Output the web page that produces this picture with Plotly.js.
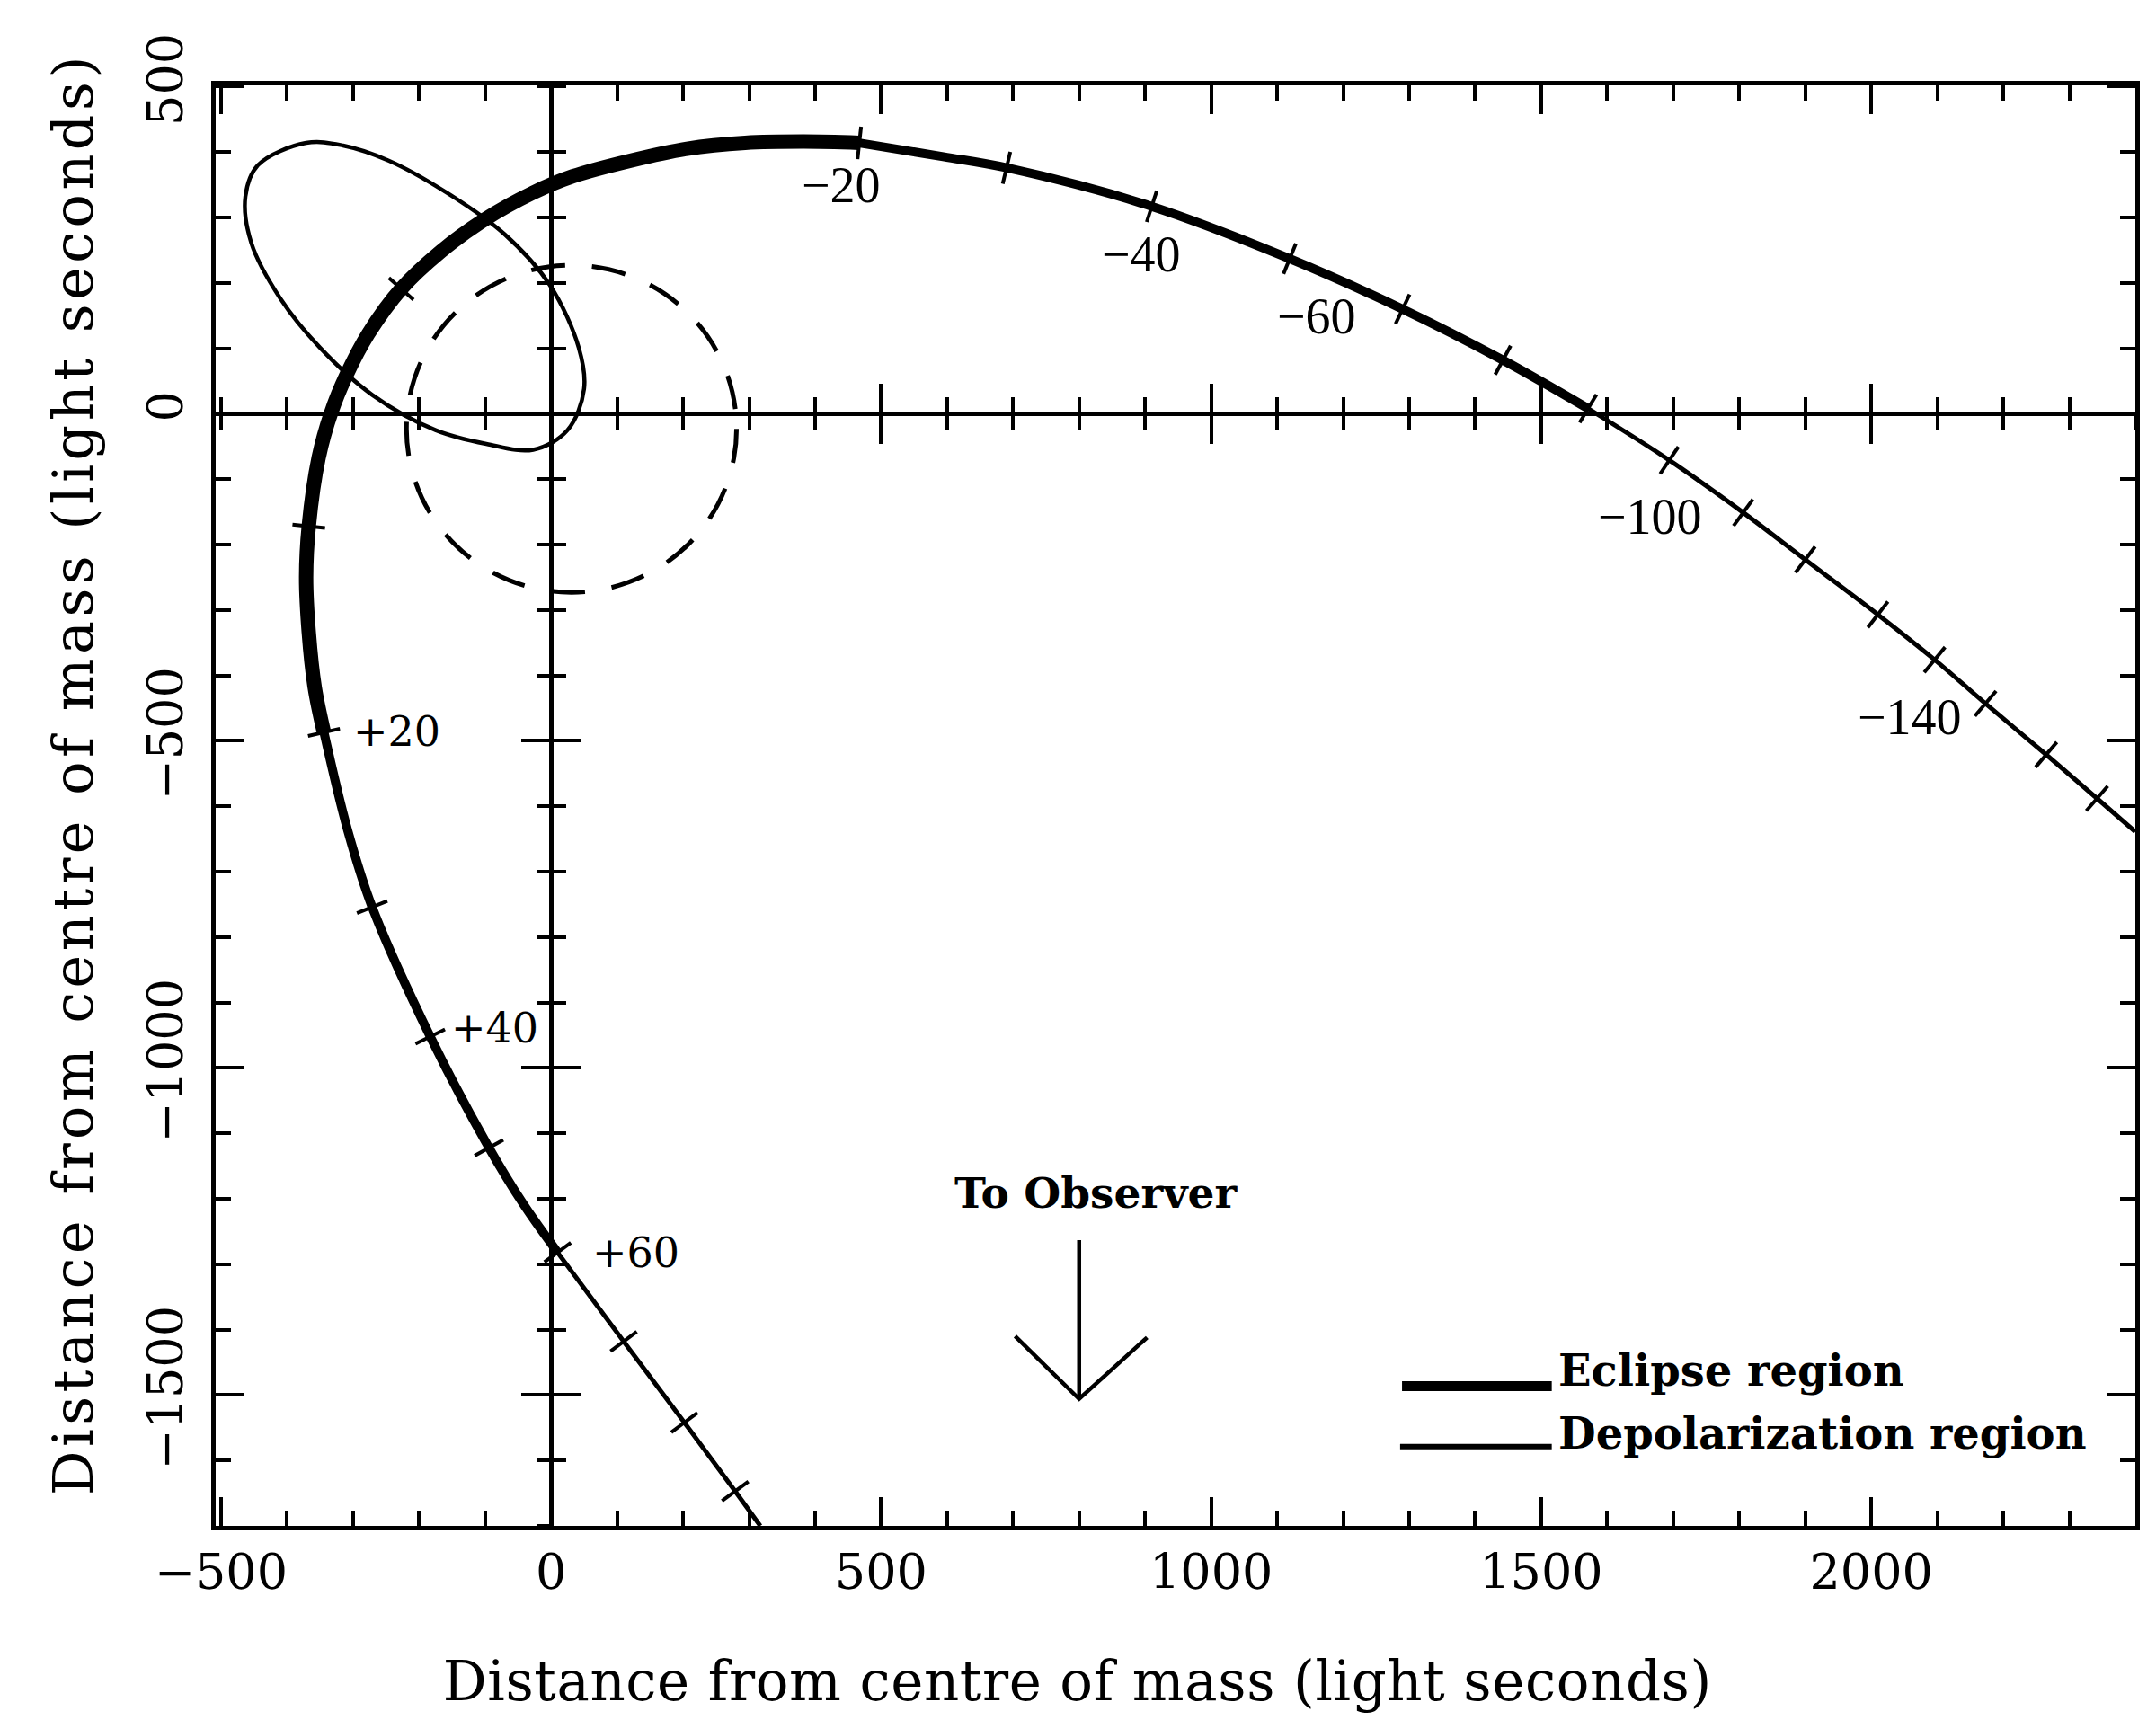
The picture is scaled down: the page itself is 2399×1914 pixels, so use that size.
<!DOCTYPE html>
<html><head><meta charset="utf-8">
<script src="https://cdn.plot.ly/plotly-3.0.1.min.js"></script>
<style>
html,body{margin:0;padding:0;background:#fff;}
#chart{width:2399px;height:1914px;}
g.annotation[data-index="10"] text{letter-spacing:4.5px;}
g.annotation[data-index="9"] text{letter-spacing:0.6px;}
</style>
</head><body><div id="chart"></div>
<script>
// ---- axes ----
const xRange = [-508, 2400];
const yRange = [-1700, 502];
const xTickVals = [-500, 0, 500, 1000, 1500, 2000];
const xTickText = ['\u2212500', '0', '500', '1000', '1500', '2000'];
const yTickVals = [500, 0, -500, -1000, -1500];
const yTickText = ['500', '0', '\u2212500', '\u22121000', '\u22121500'];
const axisTitle = 'Distance from centre of mass (light seconds)';

// ---- orbit (light seconds) ----
const orbitInX = [317, 279, 202, 110, 10];
const orbitInY = [-1700, -1647, -1542, -1418, -1282];
const depolInX = [10, -42, -94, -183, -271, -308, -344];
const depolInY = [-1282, -1208, -1122, -952, -754, -637, -487];
const eclipseX = [-344, -358, -367, -371, -367, -352, -333, -310, -277, -227, -167, -102, -27, 33, 121, 206, 294, 383, 467];
const eclipseY = [-487, -418, -334, -250, -172, -67, 2, 59, 122, 191, 248, 296, 338, 363, 387, 405, 414, 416, 414];
const depolOutX = [467, 594, 690, 910, 1119, 1290, 1442, 1571];
const depolOutY = [414, 393, 376, 317, 237, 160, 82, 8];
const orbitOutX = [1571, 1694, 1806, 1900, 2010, 2096, 2173, 2265, 2342, 2400];
const orbitOutY = [8, -71, -151, -223, -307, -376, -443, -521, -588, -639];

// 10-day marks on the orbit
const dayTickX = [279, 202, 110, 10, -94, -183, -271, -344, -367, -227, 467, 690, 910, 1119, 1290, 1442, 1571, 1694, 1806, 1900, 2010, 2096, 2173, 2265, 2342];
const dayTickY = [-1647, -1542, -1418, -1282, -1122, -952, -754, -487, -172, 191, 414, 376, 317, 237, 160, 82, 8, -71, -151, -223, -307, -376, -443, -521, -588];

// day labels
const minusLabels = ['\u221220', '\u221240', '\u221260', '\u2212100', '\u2212140'];
const minusLabelX = [440, 894, 1160, 1665, 2058];
const minusLabelY = [349, 244, 149, -158, -464];
const plusLabels = ['+20', '+40', '+60'];
const plusLabelX = [-233, -85, 129];
const plusLabelY = [-485, -939, -1282];

// tilted ellipse (disc) outline
const discX = [-371, -444, -463, -454, -410, -350, -271, -175, -98, -27, 25, 50, 42, -2, -71, -158, -246, -315, -371];
const discY = [414, 380, 332, 261, 176, 101, 29, -25, -46, -55, -25, 38, 101, 197, 275, 338, 387, 410, 414];

// dashed circle
const circleCentre = [31, -23];
const circleRadius = 250;

// observer arrow
const observerLabel = 'To Observer';
const observerLabelPos = [825, -1191];
const arrowShaftX = [800, 800];
const arrowShaftY = [-1263, -1506];
const arrowHeadX = [703, 800, 903];
const arrowHeadY = [-1410, -1506, -1412];

// legend
const legendNames = ['Eclipse region', 'Depolarization region'];

// ---- build ----
const W_THICK = 16, W_MED = 10, W_THIN = 5;
const serif = 'DejaVu Serif, Liberation Serif, serif';

function seg(x, y, w, name) {
  return {type: 'scatter', mode: 'lines', x: x, y: y, name: name,
    line: {color: '#000', width: w, shape: 'spline', smoothing: 1},
    hoverinfo: 'skip', showlegend: false};
}

// tick angles from orbit tangent (screen space)
const allX = [].concat(orbitInX, depolInX, eclipseX, depolOutX, orbitOutX);
const allY = [].concat(orbitInY, depolInY, eclipseY, depolOutY, orbitOutY);
const plotW = 2399 - 240 - 23, plotH = 1914 - 95 - 216;
const sx = plotW / (xRange[1] - xRange[0]), sy = plotH / (yRange[1] - yRange[0]);
const tickAngles = dayTickX.map((tx, k) => {
  const ty = dayTickY[k];
  let best = 0, bd = Infinity;
  for (let i = 0; i < allX.length; i++) {
    const d = (allX[i] - tx) ** 2 + (allY[i] - ty) ** 2;
    if (d < bd) { bd = d; best = i; }
  }
  let a = Math.max(0, best - 1), b = Math.min(allX.length - 1, best + 1);
  if (allX[a] === allX[best] && allY[a] === allY[best] && a > 0) a--;
  if (allX[b] === allX[best] && allY[b] === allY[best] && b < allX.length - 1) b++;
  const dx = (allX[b] - allX[a]) * sx, dy = -(allY[b] - allY[a]) * sy;
  return Math.atan2(dy, dx) * 180 / Math.PI;
});

const traces = [
  seg(orbitInX, orbitInY, W_THIN, 'orbit'),
  seg(depolInX, depolInY, W_MED, legendNames[1]),
  seg(eclipseX, eclipseY, W_THICK, legendNames[0]),
  seg(depolOutX, depolOutY, W_MED, legendNames[1]),
  seg(orbitOutX, orbitOutY, W_THIN, 'orbit'),
  {type: 'scatter', mode: 'lines', x: discX, y: discY, hoverinfo: 'skip', showlegend: false,
    line: {color: '#000', width: 4.5, shape: 'spline', smoothing: 1}},
  {type: 'scatter', mode: 'markers', x: dayTickX, y: dayTickY, hoverinfo: 'skip', showlegend: false,
    marker: {symbol: 'line-ns', size: 26, angle: tickAngles, color: '#000', line: {color: '#000', width: 4}}},
  {type: 'scatter', mode: 'lines', x: arrowShaftX, y: arrowShaftY, hoverinfo: 'skip', showlegend: false,
    line: {color: '#000', width: 4.5}},
  {type: 'scatter', mode: 'lines', x: arrowHeadX, y: arrowHeadY, hoverinfo: 'skip', showlegend: false,
    line: {color: '#000', width: 4.5}},
  // dummies so the cross-tick axes on the zero lines are drawn
  {type: 'scatter', x: [null], y: [null], xaxis: 'x2', yaxis: 'y', hoverinfo: 'skip', showlegend: false},
  {type: 'scatter', x: [null], y: [null], xaxis: 'x3', yaxis: 'y', hoverinfo: 'skip', showlegend: false},
  {type: 'scatter', x: [null], y: [null], xaxis: 'x', yaxis: 'y2', hoverinfo: 'skip', showlegend: false},
  {type: 'scatter', x: [null], y: [null], xaxis: 'x', yaxis: 'y3', hoverinfo: 'skip', showlegend: false}
];

const annotations = [];
// 0..4
minusLabels.forEach((t, i) => annotations.push({x: minusLabelX[i], y: minusLabelY[i], xref: 'x', yref: 'y', text: t,
  showarrow: false, font: {family: 'Liberation Serif, serif', size: 56, color: '#000'}}));
// 5..7
plusLabels.forEach((t, i) => annotations.push({x: plusLabelX[i], y: plusLabelY[i], xref: 'x', yref: 'y', text: t,
  showarrow: false, font: {family: serif, size: 46, color: '#000'}}));
// 8
annotations.push({x: observerLabelPos[0], y: observerLabelPos[1], xref: 'x', yref: 'y', text: observerLabel,
  showarrow: false, font: {family: serif, size: 47, color: '#000', weight: 'bold'}});
// 9: x-axis title
annotations.push({x: 0.449, y: -0.1073, xref: 'paper', yref: 'paper', xanchor: 'center', yanchor: 'middle',
  text: axisTitle, showarrow: false, font: {family: serif, size: 61, color: '#000'}});
// 10: y-axis title
annotations.push({x: -0.0744, y: 0.522, xref: 'paper', yref: 'paper', xanchor: 'center', yanchor: 'middle',
  text: axisTitle, textangle: -90, showarrow: false, font: {family: serif, size: 62, color: '#000'}});
// 11, 12: legend text
annotations.push({x: 0.6985, y: 0.108, xref: 'paper', yref: 'paper', xanchor: 'left', yanchor: 'middle',
  text: legendNames[0], showarrow: false, font: {family: serif, size: 48, color: '#000', weight: 'bold'}});
annotations.push({x: 0.6985, y: 0.064, xref: 'paper', yref: 'paper', xanchor: 'left', yanchor: 'middle',
  text: legendNames[1], showarrow: false, font: {family: serif, size: 48, color: '#000', weight: 'bold'}});

const shapes = [
  {type: 'circle', xref: 'x', yref: 'y',
    x0: circleCentre[0] - circleRadius, x1: circleCentre[0] + circleRadius,
    y0: circleCentre[1] - circleRadius, y1: circleCentre[1] + circleRadius,
    line: {color: '#000', width: 5, dash: '38px,30px'}},
  {type: 'line', xref: 'paper', yref: 'paper', x0: 0.618, x1: 0.696, y0: 0.097, y1: 0.097,
    line: {color: '#000', width: 11}},
  {type: 'line', xref: 'paper', yref: 'paper', x0: 0.617, x1: 0.696, y0: 0.055, y1: 0.055,
    line: {color: '#000', width: 6}}
];

const yZeroFrac = (0 - yRange[0]) / (yRange[1] - yRange[0]);
const xZeroFrac = (0 - xRange[0]) / (xRange[1] - xRange[0]);

const tickFont = {family: serif, size: 54, color: '#000'};
function crossAxisX(ticks, major, minor) {
  return {overlaying: 'x', anchor: 'free', position: yZeroFrac, range: xRange, side: 'bottom',
    showline: false, showgrid: false, zeroline: false, showticklabels: false,
    ticks: ticks, tickmode: 'array', tickvals: [500, 1000, 1500, 2000], ticklen: major, tickwidth: 4, tickcolor: '#000',
    minor: {ticks: ticks, tickmode: 'linear', tick0: 0, dtick: 100, ticklen: minor, tickwidth: 4, tickcolor: '#000', showgrid: false}};
}
function crossAxisY(ticks, major, minor) {
  return {overlaying: 'y', anchor: 'free', position: xZeroFrac, range: yRange, side: 'left',
    showline: false, showgrid: false, zeroline: false, showticklabels: false,
    ticks: ticks, tickmode: 'array', tickvals: [-500, -1000, -1500], ticklen: major, tickwidth: 4, tickcolor: '#000',
    minor: {ticks: ticks, tickmode: 'linear', tick0: 0, dtick: 100, ticklen: minor, tickwidth: 4, tickcolor: '#000', showgrid: false}};
}

const layout = {
  width: 2399, height: 1914,
  margin: {l: 240, r: 23, t: 95, b: 216, pad: 0},
  paper_bgcolor: '#fff', plot_bgcolor: '#fff',
  showlegend: false,
  xaxis: {
    range: xRange, showgrid: false, zeroline: true, zerolinecolor: '#000', zerolinewidth: 5,
    showline: true, linecolor: '#000', linewidth: 5, mirror: 'ticks',
    ticks: 'inside', ticklen: 32, tickwidth: 4, tickcolor: '#000',
    tickmode: 'array', tickvals: xTickVals, ticktext: xTickText, tickfont: tickFont,
    minor: {ticks: 'inside', tickmode: 'linear', tick0: 0, dtick: 100, ticklen: 17, tickwidth: 4, tickcolor: '#000', showgrid: false}
  },
  yaxis: {
    range: yRange, showgrid: false, zeroline: true, zerolinecolor: '#000', zerolinewidth: 5,
    showline: true, linecolor: '#000', linewidth: 5, mirror: 'ticks',
    ticks: 'inside', ticklen: 32, tickwidth: 4, tickcolor: '#000',
    tickmode: 'array', tickvals: yTickVals, ticktext: yTickText, tickfont: tickFont, tickangle: -90,
    ticklabelstandoff: 10,
    minor: {ticks: 'inside', tickmode: 'linear', tick0: 0, dtick: 100, ticklen: 17, tickwidth: 4, tickcolor: '#000', showgrid: false}
  },
  xaxis2: crossAxisX('inside', 33, 18),
  xaxis3: crossAxisX('outside', 33, 18),
  yaxis2: crossAxisY('inside', 33, 16),
  yaxis3: crossAxisY('outside', 33, 16),
  annotations: annotations,
  shapes: shapes
};

Plotly.newPlot('chart', traces, layout, {staticPlot: true, displayModeBar: false});
</script>
</body></html>
